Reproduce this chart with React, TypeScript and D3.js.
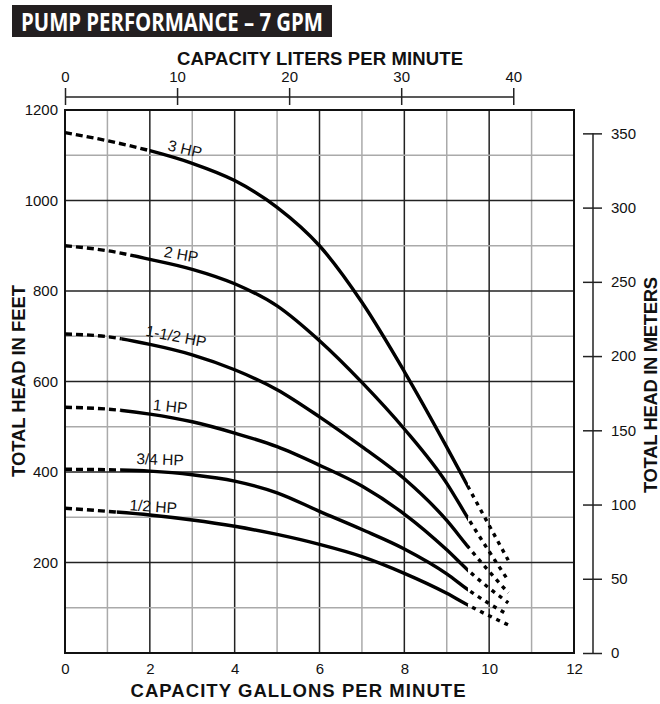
import { useEffect, useRef } from "react";
import {
  select,
  scaleLinear,
  line as d3Line,
  curveMonotoneX,
  axisTop,
  axisRight,
  axisLeft,
  axisBottom,
  range,
} from "d3";

// capacity points (gpm) shared by all curves
const gpmPoints = [0, 1, 2, 3, 4, 5, 6, 7, 8, 9, 9.5, 10.45];

// total head in feet for each motor size
const head3hp = [1150, 1132, 1110, 1082, 1044, 985, 900, 775, 622, 455, 368, 205];
const head2hp = [900, 889, 870, 848, 816, 767, 690, 598, 495, 375, 298, 160];
const head15hp = [705, 699, 682, 659, 626, 582, 522, 456, 385, 293, 235, 133];
const head1hp = [543, 539, 528, 511, 486, 456, 415, 369, 307, 228, 183, 111];
const head34hp = [406, 405, 402, 394, 380, 354, 313, 273, 230, 175, 140, 84];
const head12hp = [320, 313, 305, 294, 280, 262, 240, 213, 176, 132, 106, 62];

const curveNames = ["3 HP", "2 HP", "1-1/2 HP", "1 HP", "3/4 HP", "1/2 HP"];
const curveHeads = [head3hp, head2hp, head15hp, head1hp, head34hp, head12hp];
// where the dashed (extrapolated) start turns solid, and where solid turns dotted
const solidFrom = [2, 1.65, 1.34, 1.3, 1.3, 1.22];
const solidTo = 9.5;

// curve label placement (gpm, feet, rotation)
const labelGpm = [2.83, 2.74, 2.62, 2.48, 2.24, 2.08];
const labelHead = [1114, 881, 700, 545, 428, 324];
const labelAngle = [13, 10, 11, 6, 2, 4];

const gpmTicks = [0, 2, 4, 6, 8, 10, 12];
const feetTicks = [200, 400, 600, 800, 1000, 1200];
const literTicks = [0, 10, 20, 30, 40];
const meterTicks = [0, 50, 100, 150, 200, 250, 300, 350];

const LITERS_PER_GAL = 3.785;
const FEET_PER_METER = 3.281;

const FONT = "'Liberation Sans', Arial, Helvetica, sans-serif";

export default function App() {
  const svgRef = useRef<SVGSVGElement | null>(null);
  const width = 660;
  const height = 704;

  useEffect(() => {
    if (!svgRef.current) return;
    const svg = select(svgRef.current);
    svg.selectAll("*").remove();

    const left = 65;
    const right = 574;
    const top = 110;
    const bottom = 653;

    const x = scaleLinear().domain([0, 12]).range([left, right]);
    const y = scaleLinear().domain([0, 1200]).range([bottom, top]);
    const xl = scaleLinear().domain([0, 12 * LITERS_PER_GAL]).range([left, right]);
    const ym = scaleLinear().domain([0, 1200 / FEET_PER_METER]).range([bottom, top]);

    // title bar
    svg.append("rect").attr("x", 12).attr("y", 5).attr("width", 320).attr("height", 32).attr("fill", "#231f20");
    svg
      .append("text")
      .attr("x", 21)
      .attr("y", 31)
      .attr("fill", "#fff")
      .attr("font-family", "'Open Sans', sans-serif")
      .attr("font-weight", 700)
      .attr("font-size", 25)
      .attr("textLength", 302)
      .attr("lengthAdjust", "spacingAndGlyphs")
      .text("PUMP PERFORMANCE \u2013 7 GPM");

    // grid
    const grid = svg.append("g");
    grid
      .selectAll("line.v")
      .data(range(1, 12))
      .enter()
      .append("line")
      .attr("x1", (d) => x(d))
      .attr("x2", (d) => x(d))
      .attr("y1", top)
      .attr("y2", bottom)
      .attr("stroke", (d) => (d % 2 === 0 ? "#222" : "#aaa"))
      .attr("stroke-width", 1.5);
    grid
      .selectAll("line.h")
      .data(range(100, 1200, 100))
      .enter()
      .append("line")
      .attr("x1", left)
      .attr("x2", right)
      .attr("y1", (d) => y(d))
      .attr("y2", (d) => y(d))
      .attr("stroke", (d) => (d % 200 === 0 ? "#222" : "#aaa"))
      .attr("stroke-width", 1.5);

    svg
      .append("rect")
      .attr("x", left)
      .attr("y", top)
      .attr("width", right - left)
      .attr("height", bottom - top)
      .attr("fill", "none")
      .attr("stroke", "#111")
      .attr("stroke-width", 2);

    // curves
    const defs = svg.append("defs");
    const lineGen = d3Line<number>()
      .x((_, i) => x(gpmPoints[i]))
      .y((d) => y(d))
      .curve(curveMonotoneX);

    const curves = svg.append("g");
    curveHeads.forEach((heads, ci) => {
      const parts = [
        { id: `c${ci}a`, from: -0.2, to: solidFrom[ci], dash: "7,4" },
        { id: `c${ci}b`, from: solidFrom[ci], to: solidTo, dash: null },
        { id: `c${ci}c`, from: solidTo, to: 11, dash: "4,5" },
      ];
      parts.forEach((p) => {
        defs
          .append("clipPath")
          .attr("id", p.id)
          .append("rect")
          .attr("x", x(p.from))
          .attr("y", 0)
          .attr("width", x(p.to) - x(p.from))
          .attr("height", height);
        curves
          .append("path")
          .attr("d", lineGen(heads))
          .attr("fill", "none")
          .attr("stroke", "#000")
          .attr("stroke-width", 3.4)
          .attr("stroke-dasharray", p.dash)
          .attr("clip-path", `url(#${p.id})`);
      });
    });

    // curve labels
    svg
      .append("g")
      .selectAll("text")
      .data(curveNames)
      .enter()
      .append("text")
      .attr("transform", (_, i) => `translate(${x(labelGpm[i])},${y(labelHead[i])}) rotate(${labelAngle[i]})`)
      .attr("text-anchor", "middle")
      .attr("dy", "0.35em")
      .attr("font-family", FONT)
      .attr("font-size", 15.5)
      .attr("fill", "#111")
      .text((d) => d);

    const styleAxis = (g: any) => {
      g.selectAll("text").attr("font-family", FONT).attr("font-size", 15).attr("fill", "#111");
      g.selectAll("line").attr("stroke", "#222").attr("stroke-width", 1.5);
      g.select(".domain").attr("stroke", "#222").attr("stroke-width", 1.5);
    };

    // bottom axis (gpm)
    const gB = svg
      .append("g")
      .attr("transform", `translate(0,${bottom})`)
      .call(axisBottom(x).tickValues(gpmTicks).tickSize(0).tickPadding(10).tickFormat((d: any) => `${d}`));
    gB.select(".domain").remove();
    styleAxis(gB);

    // left axis (feet)
    const gL = svg
      .append("g")
      .attr("transform", `translate(${left},0)`)
      .call(axisLeft(y).tickValues(feetTicks).tickSize(0).tickPadding(7).tickFormat((d: any) => `${d}`));
    gL.select(".domain").remove();
    styleAxis(gL);

    // top axis (liters)
    const axisY = 97;
    const gT = svg
      .append("g")
      .attr("transform", `translate(0,${axisY})`)
      .call(axisTop(xl).tickValues(literTicks).tickSize(9).tickSizeOuter(0).tickPadding(6).tickFormat((d: any) => `${d}`));
    gT.select(".domain").attr("d", `M${xl(0)},0H${xl(40)}`);
    gT.selectAll(".tick line").attr("y1", 8).attr("y2", -9);
    styleAxis(gT);

    // right axis (meters)
    const axisX = 593;
    const gR = svg
      .append("g")
      .attr("transform", `translate(${axisX},0)`)
      .call(axisRight(ym).tickValues(meterTicks).tickSize(9).tickSizeOuter(0).tickPadding(9).tickFormat((d: any) => `${d}`));
    gR.select(".domain").attr("d", `M0,${ym(350)}V${ym(0)}`);
    gR.selectAll(".tick line").attr("x1", -10).attr("x2", 9);
    styleAxis(gR);

    // axis titles
    const titles = svg
      .append("g")
      .attr("font-family", FONT)
      .attr("font-weight", 700)
      .attr("font-size", 18.5)
      .attr("fill", "#111")
      .attr("text-anchor", "middle");
    titles.append("text").attr("x", 320).attr("y", 65).attr("textLength", 286).text("CAPACITY LITERS PER MINUTE");
    titles.append("text").attr("x", 298).attr("y", 697).attr("textLength", 335).text("CAPACITY GALLONS PER MINUTE");
    titles
      .append("text")
      .attr("transform", "translate(25,381) rotate(-90)")
      .attr("textLength", 192)
      .text("TOTAL HEAD IN FEET");
    titles
      .append("text")
      .attr("transform", "translate(657,385) rotate(-90)")
      .attr("textLength", 216)
      .text("TOTAL HEAD IN METERS");
  }, []);

  return (
    <div style={{ position: "absolute", left: 0, top: 0, background: "#fff" }}>
      <svg ref={svgRef} width={width} height={height} style={{ display: "block" }} />
    </div>
  );
}
